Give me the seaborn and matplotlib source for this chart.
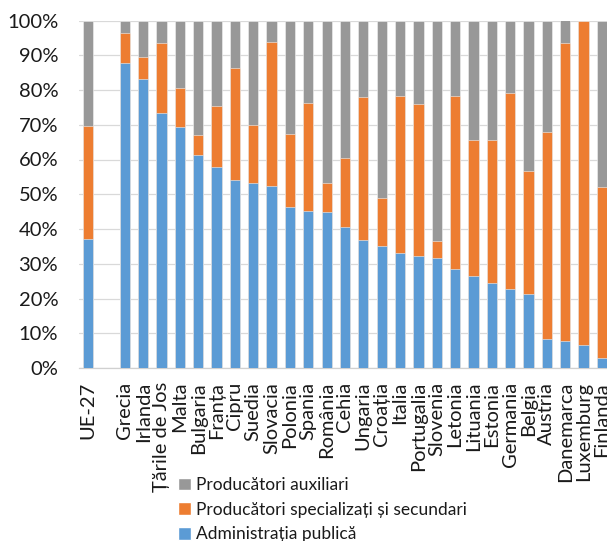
import matplotlib
matplotlib.use("Agg")
import matplotlib.pyplot as plt
from matplotlib.patches import Patch
import seaborn as sns
import pandas as pd

# Categories (blank slot separates the EU aggregate from member states)
countries = ["UE-27", " ", "Grecia", "Irlanda", "Țările de Jos", "Malta", "Bulgaria",
             "Franța", "Cipru", "Suedia", "Slovacia", "Polonia", "Spania", "România",
             "Cehia", "Ungaria", "Croația", "Italia", "Portugalia", "Slovenia",
             "Letonia", "Lituania", "Estonia", "Germania", "Belgia", "Austria",
             "Danemarca", "Luxemburg", "Finlanda"]

# Shares (%) by producer type, excluding the blank slot
admin_publica = [37.1, 87.8, 83.3, 73.5, 69.4, 61.3, 57.9, 54.2, 53.2, 52.3, 46.4,
                 45.3, 44.8, 40.5, 36.9, 35.0, 33.0, 32.3, 31.6, 28.4, 26.6, 24.5,
                 22.8, 21.2, 8.3, 7.7, 6.7, 3.0]
specializati = [32.6, 8.6, 6.1, 20.0, 11.1, 5.7, 17.5, 32.0, 16.7, 41.5, 20.8,
                31.1, 8.3, 19.9, 41.2, 13.8, 45.4, 43.8, 4.9, 50.0, 38.9, 41.0,
                56.3, 35.4, 59.6, 85.9, 93.3, 49.0]
auxiliari = [round(100 - a - s, 1) for a, s in zip(admin_publica, specializati)]

series_labels = ["Producători auxiliari", "Producători specializați și secundari",
                 "Administrația publică"]
colors = {"aux": "#989898", "spec": "#ED7D31", "admin": "#5B9BD5"}

bar_countries = [c for c in countries if c.strip()]
df = pd.DataFrame({
    "tara": bar_countries,
    "admin": admin_publica,
    "spec": specializati,
    "aux": auxiliari,
})
df["cum_spec"] = df["admin"] + df["spec"]
df["cum_aux"] = df["cum_spec"] + df["aux"]

sns.set_theme(style="white")
plt.rcParams["font.family"] = ["Lato", "DejaVu Sans"]
FS = 14.5
FS_LEG = 12.5

fig = plt.figure(figsize=(6.07, 5.41), dpi=100)
ax = fig.add_axes([79 / 607, (541 - 368) / 541, (611 - 79) / 607, 347.5 / 541])

common = dict(x="tara", order=countries, width=0.56, ax=ax, saturation=1,
              edgecolor="#f2f2f2", linewidth=0.4, zorder=3)
sns.barplot(data=df, y="cum_aux", color=colors["aux"], **common)
sns.barplot(data=df, y="cum_spec", color=colors["spec"], **common)
sns.barplot(data=df, y="admin", color=colors["admin"], **common)

ax.set_ylim(0, 100)
ax.set_xlim(-0.5, len(countries) - 0.5)
ax.set_yticks(range(0, 101, 10))
ax.set_yticklabels([f"{v}%" for v in range(0, 101, 10)], fontsize=FS, color="#1a1a1a")
ax.set_xticks(range(len(countries)))
ax.set_xticklabels(countries, rotation=90, fontsize=FS, color="#1a1a1a",
                   ha="center", va="top")
ax.tick_params(axis="both", length=0)
ax.tick_params(axis="x", pad=10)
ax.tick_params(axis="y", pad=15)
ax.set_xlabel("")
ax.set_ylabel("")
ax.grid(axis="y", color="#d9d9d9", linewidth=0.9, zorder=0)
ax.set_axisbelow(True)
for side in ["left", "right", "top"]:
    ax.spines[side].set_visible(False)
ax.spines["bottom"].set_color("#d0d0d0")
ax.spines["bottom"].set_linewidth(0.9)

handles = [Patch(facecolor=colors["aux"]), Patch(facecolor=colors["spec"]),
           Patch(facecolor=colors["admin"])]
fig.legend(handles, series_labels, loc="upper left",
           bbox_to_anchor=(171 / 607, 1 - 470 / 541), frameon=False,
           fontsize=FS_LEG, handlelength=0.75, handleheight=0.75, handletextpad=0.3,
           labelspacing=0.5, borderaxespad=0, labelcolor="#1a1a1a")

fig.savefig("out.png", dpi=100)
